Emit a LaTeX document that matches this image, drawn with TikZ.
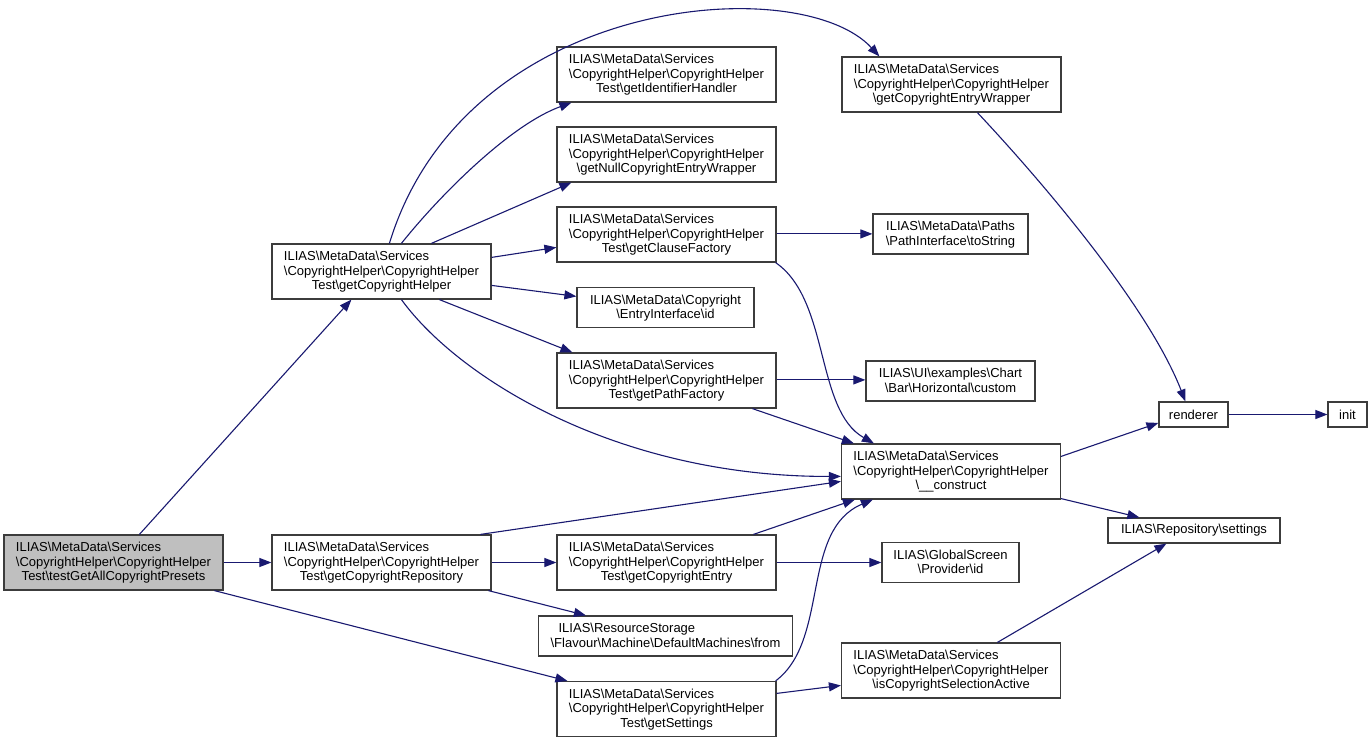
\documentclass[tikz,border=0pt]{standalone}
\usepackage{fontspec}
\setmainfont{Liberation Sans}
\usetikzlibrary{arrows.meta,calc}
\newcommand{\BSL}{\textbackslash}
\newcommand{\Lthree}[3]{\begin{tabular}{@{}l@{}}#1\\#2\\\multicolumn{1}{@{}c@{}}{#3}\end{tabular}}
\newcommand{\Ltwo}[2]{\begin{tabular}{@{}l@{}}#1\\\multicolumn{1}{@{}c@{}}{#2}\end{tabular}}
\newcommand{\Ctwo}[2]{\begin{tabular}{@{}c@{}}#1\\#2\end{tabular}}
\definecolor{edgeblue}{HTML}{191970}
\definecolor{boxline}{HTML}{3C3C3C}
\definecolor{rootfill}{HTML}{BFBFBF}
\tikzset{
  box/.style={draw=boxline, line width=1.2pt, fill=white, inner sep=0pt,
    font=\fontsize{13}{14.5}\selectfont\setbox\strutbox\hbox{\vrule height 11pt depth 3.5pt width 0pt},
    minimum width=219, minimum height=55},
  root/.style={box, fill=rootfill},
  box2/.style={box, minimum height=40},
  box1/.style={box, minimum height=25},
  edge/.style={draw=edgeblue, line width=1.1pt, -{Triangle[length=12pt,width=9pt]}, fill=none}
}
\begin{document}
\begin{tikzpicture}[x=1pt,y=-1pt]
\useasboundingbox (0,0) rectangle (1372,742);
\fill[white] (0,0) rectangle (1372,742);

% nodes
\node[root] (test) at (113.5,562.5) {\Lthree{ILIAS\BSL MetaData\BSL Services}{\BSL CopyrightHelper\BSL CopyrightHelper}{Test\BSL testGetAllCopyrightPresets}};
\node[box] (helper) at (381.5,271.5) {\Lthree{ILIAS\BSL MetaData\BSL Services}{\BSL CopyrightHelper\BSL CopyrightHelper}{Test\BSL getCopyrightHelper}};
\node[box] (repo) at (381.5,562.5) {\Lthree{ILIAS\BSL MetaData\BSL Services}{\BSL CopyrightHelper\BSL CopyrightHelper}{Test\BSL getCopyrightRepository}};
\node[box] (ident) at (666.5,74.5) {\Lthree{ILIAS\BSL MetaData\BSL Services}{\BSL CopyrightHelper\BSL CopyrightHelper}{Test\BSL getIdentifierHandler}};
\node[box] (null) at (666.5,154.5) {\Lthree{ILIAS\BSL MetaData\BSL Services}{\BSL CopyrightHelper\BSL CopyrightHelper}{\BSL getNullCopyrightEntryWrapper}};
\node[box] (clause) at (666.5,234.5) {\Lthree{ILIAS\BSL MetaData\BSL Services}{\BSL CopyrightHelper\BSL CopyrightHelper}{Test\BSL getClauseFactory}};
\node[box2, minimum width=177] (eid) at (665.5,307.5) {\Ltwo{ILIAS\BSL MetaData\BSL Copyright}{\BSL EntryInterface\BSL id}};
\node[box] (pathf) at (666.5,380.5) {\Lthree{ILIAS\BSL MetaData\BSL Services}{\BSL CopyrightHelper\BSL CopyrightHelper}{Test\BSL getPathFactory}};
\node[box] (entry) at (666.5,562.5) {\Lthree{ILIAS\BSL MetaData\BSL Services}{\BSL CopyrightHelper\BSL CopyrightHelper}{Test\BSL getCopyrightEntry}};
\node[box2, minimum width=254] (from) at (665.5,636) {\Ltwo{\hspace*{8pt}ILIAS\BSL ResourceStorage}{\BSL Flavour\BSL Machine\BSL DefaultMachines\BSL from}};
\node[box] (sett) at (666.5,709) {\Lthree{ILIAS\BSL MetaData\BSL Services}{\BSL CopyrightHelper\BSL CopyrightHelper}{Test\BSL getSettings}};
\node[box] (wrapper) at (951.5,84.5) {\Lthree{ILIAS\BSL MetaData\BSL Services}{\BSL CopyrightHelper\BSL CopyrightHelper}{\BSL getCopyrightEntryWrapper}};
\node[box2, minimum width=155] (tostring) at (950.5,234) {\Ctwo{ILIAS\BSL MetaData\BSL Paths}{\BSL PathInterface\BSL toString}};
\node[box2, minimum width=169] (custom) at (950.5,381) {\Ltwo{ILIAS\BSL UI\BSL examples\BSL Chart}{\BSL Bar\BSL Horizontal\BSL custom}};
\node[box] (construct) at (951,471.5) {\Lthree{ILIAS\BSL MetaData\BSL Services}{\BSL CopyrightHelper\BSL CopyrightHelper}{\BSL \_\_construct}};
\node[box2, minimum width=137] (pid) at (950.5,562.5) {\Ctwo{ILIAS\BSL GlobalScreen}{\BSL Provider\BSL id}};
\node[box] (active) at (951,670.5) {\Lthree{ILIAS\BSL MetaData\BSL Services}{\BSL CopyrightHelper\BSL CopyrightHelper}{\BSL isCopyrightSelectionActive}};
\node[box1, minimum width=69] (renderer) at (1193.5,414.5) {renderer};
\node[box1, minimum width=39] (init) at (1347.5,414.5) {init};
\node[box1, minimum width=172] (settings) at (1194,530.5) {ILIAS\BSL Repository\BSL settings};

% edges
\draw[edge] ($(test.north west)+(136,0)$) -- ($(helper.south west)+(80,0)$);
\draw[edge] (test.east) -- (repo.west);
\draw[edge] ($(test.south west)+(211,0)$) -- ($(sett.north west)+(11,0)$);
\draw[edge] ($(helper.north west)+(118,0)$) .. controls (465,-5) and (800,-30) .. ($(wrapper.north west)+(38,0)$);
\draw[edge] ($(helper.north west)+(130,0)$) .. controls (440,195) and (510,125) .. ($(ident.south west)+(15,0)$);
\draw[edge] ($(helper.north west)+(160,0)$) -- ($(null.south west)+(15,0)$);
\draw[edge] ($(helper.north east)+(0,14)$) -- ($(clause.north west)+(0,41)$);
\draw[edge] ($(helper.north east)+(0,42)$) -- ($(eid.north west)+(0,9.5)$);
\draw[edge] ($(helper.south west)+(168,0)$) -- ($(pathf.north west)+(16,0)$);
\draw[edge] ($(helper.south west)+(130,0)$) .. controls (460,380) and (620,477) .. ($(construct.north west)+(0,33)$);
\draw[edge] ($(clause.north east)+(0,27.5)$) -- ($(tostring.north west)+(0,20.5)$);
\draw[edge] ($(clause.south east)+(-1,0)$) .. controls (830,300) and (815,410) .. ($(construct.north west)+(33,0)$);
\draw[edge] ($(pathf.north east)+(0,27.5)$) -- ($(custom.north west)+(0,19.5)$);
\draw[edge] ($(pathf.south west)+(196,0)$) -- ($(construct.north west)+(13,0)$);
\draw[edge] ($(repo.north west)+(209,0)$) -- ($(construct.north west)+(0,38)$);
\draw[edge] (repo.east) -- (entry.west);
\draw[edge] ($(repo.south west)+(217,0)$) -- ($(from.north west)+(48,0)$);
\draw[edge] ($(entry.north west)+(197,0)$) -- ($(construct.south west)+(14,0)$);
\draw[edge] (entry.east) -- (pid.west);
\draw[edge] ($(sett.north east)+(-1,0)$) .. controls (830,640) and (800,530) .. ($(construct.south west)+(32,0)$);
\draw[edge] ($(sett.north east)+(0,12.5)$) -- ($(active.north west)+(0,43)$);
\draw[edge] ($(wrapper.south west)+(136,0)$) .. controls (1050,190) and (1150,310) .. ($(renderer.north west)+(27,0)$);
\draw[edge] ($(construct.north east)+(0,13)$) -- ($(renderer.north west)+(0,21.5)$);
\draw[edge] ($(construct.south east)+(0,-1)$) -- ($(settings.north west)+(32,0)$);
\draw[edge] ($(active.north west)+(156.5,0)$) -- ($(settings.south west)+(59,0)$);
\draw[edge] (renderer.east) -- (init.west);
\end{tikzpicture}
\end{document}
